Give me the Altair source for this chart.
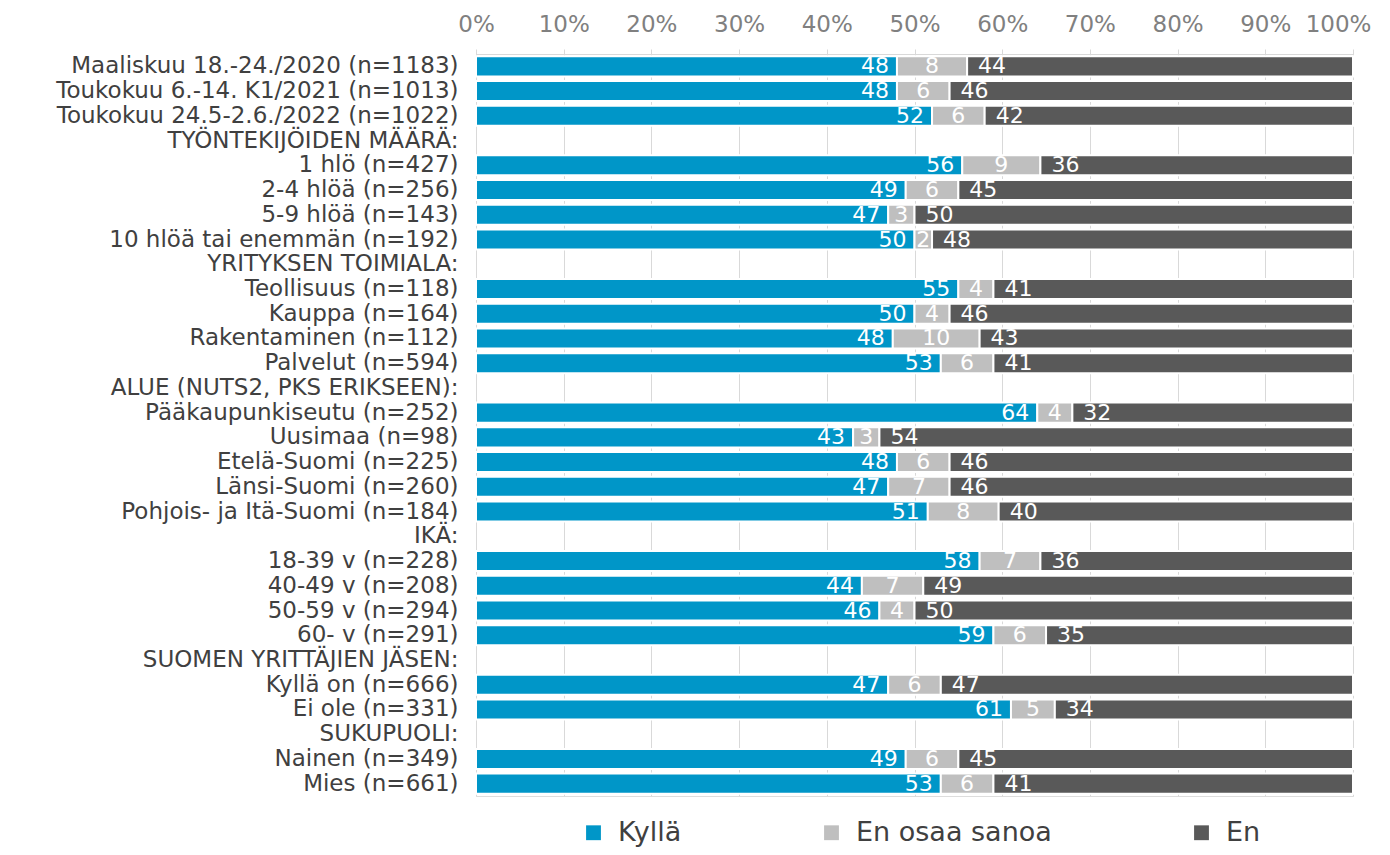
import altair as alt
import pandas as pd

categories = [
    "Maaliskuu 18.-24./2020 (n=1183)",
    "Toukokuu 6.-14. K1/2021 (n=1013)",
    "Toukokuu 24.5-2.6./2022 (n=1022)",
    "TYÖNTEKIJÖIDEN MÄÄRÄ:",
    "1 hlö (n=427)",
    "2-4 hlöä (n=256)",
    "5-9 hlöä (n=143)",
    "10 hlöä tai enemmän (n=192)",
    "YRITYKSEN TOIMIALA:",
    "Teollisuus (n=118)",
    "Kauppa (n=164)",
    "Rakentaminen (n=112)",
    "Palvelut (n=594)",
    "ALUE (NUTS2, PKS ERIKSEEN):",
    "Pääkaupunkiseutu (n=252)",
    "Uusimaa (n=98)",
    "Etelä-Suomi (n=225)",
    "Länsi-Suomi (n=260)",
    "Pohjois- ja Itä-Suomi (n=184)",
    "IKÄ:",
    "18-39 v (n=228)",
    "40-49 v (n=208)",
    "50-59 v (n=294)",
    "60- v (n=291)",
    "SUOMEN YRITTÄJIEN JÄSEN:",
    "Kyllä on (n=666)",
    "Ei ole (n=331)",
    "SUKUPUOLI:",
    "Nainen (n=349)",
    "Mies (n=661)",
]

kylla = [48, 48, 52, None, 56, 49, 47, 50, None, 55, 50, 48, 53, None,
         64, 43, 48, 47, 51, None, 58, 44, 46, 59, None, 47, 61, None, 49, 53]
eos = [8, 6, 6, None, 9, 6, 3, 2, None, 4, 4, 10, 6, None,
       4, 3, 6, 7, 8, None, 7, 7, 4, 6, None, 6, 5, None, 6, 6]
en = [44, 46, 42, None, 36, 45, 50, 48, None, 41, 46, 43, 41, None,
      32, 54, 46, 46, 40, None, 36, 49, 50, 35, None, 47, 34, None, 45, 41]

series = ["Kyllä", "En osaa sanoa", "En"]
colors = ["#0096C8", "#BFBFBF", "#595959"]
x_ticks = [0, 0.1, 0.2, 0.3, 0.4, 0.5, 0.6, 0.7, 0.8, 0.9, 1.0]

rows = []
for c, a, b, d in zip(categories, kylla, eos, en):
    if a is None:
        continue
    for i, (s, v) in enumerate(zip(series, [a, b, d])):
        rows.append({"cat": c, "series": s, "order": i, "value": v})
df = pd.DataFrame(rows)

FONT = "DejaVu Sans"

base = alt.Chart(df).transform_stack(
    stack="value",
    groupby=["cat"],
    as_=["x0", "x1"],
    offset="normalize",
    sort=[alt.SortField("order")],
).transform_calculate(mid="(datum.x0 + datum.x1) / 2")

y_enc = alt.Y(
    "cat:N",
    scale=alt.Scale(domain=categories, paddingInner=0.19, paddingOuter=0.095),
    axis=alt.Axis(
        title=None, ticks=False, tickSize=0, domain=False, grid=False,
        labelFontSize=23, labelColor="#404040", labelPadding=18,
        labelLimit=0, labelFont=FONT,
    ),
)

x_scale = alt.Scale(domain=[0, 1], nice=False)

bars = base.mark_bar(stroke="white", strokeWidth=2).encode(
    x=alt.X(
        "x0:Q",
        scale=x_scale,
        axis=alt.Axis(
            orient="top", format="%", values=x_ticks, title=None,
            labelFontSize=23, labelColor="#808080", labelFont=FONT,
            labelPadding=13, tickSize=5, tickColor="#D9D9D9",
            domainColor="#D9D9D9", gridColor="#D9D9D9", grid=True,
            labelFlush=False,
            labelOffset=alt.condition(alt.datum.value == 1, alt.value(-15), alt.value(0)),
        ),
    ),
    x2="x1:Q",
    y=y_enc,
    color=alt.Color(
        "series:N",
        scale=alt.Scale(domain=series, range=colors),
        legend=alt.Legend(
            title=None, orient="none", direction="horizontal",
            legendX=104, legendY=765, symbolType="square", symbolSize=220,
            symbolStrokeWidth=0, labelFontSize=27, labelColor="#404040",
            labelFont=FONT, labelOffset=11, columnPadding=136, padding=0,
            labelLimit=0,
        ),
    ),
    order=alt.Order("order:Q"),
)

text_style = dict(color="white", fontSize=22, font=FONT, baseline="middle")

lab_k = base.transform_filter(alt.datum.series == "Kyllä").mark_text(
    align="right", dx=-8, **text_style
).encode(x=alt.X("x1:Q", scale=x_scale), y=alt.Y("cat:N"), text="value:Q")

lab_e = base.transform_filter(alt.datum.series == "En osaa sanoa").mark_text(
    align="center", **text_style
).encode(x=alt.X("mid:Q", scale=x_scale), y=alt.Y("cat:N"), text="value:Q")

lab_n = base.transform_filter(alt.datum.series == "En").mark_text(
    align="left", dx=11, **text_style
).encode(x=alt.X("x0:Q", scale=x_scale), y=alt.Y("cat:N"), text="value:Q")

chart = alt.layer(bars, lab_k, lab_e, lab_n).properties(
    width=877,
    height=742,
    autosize=alt.AutoSizeParams(type="none"),
    padding={"left": 468, "top": 46, "right": 21, "bottom": 51},
).configure_view(stroke=None).configure(background="white")

chart.save("out.html", embed_options={"renderer": "svg", "actions": False})
